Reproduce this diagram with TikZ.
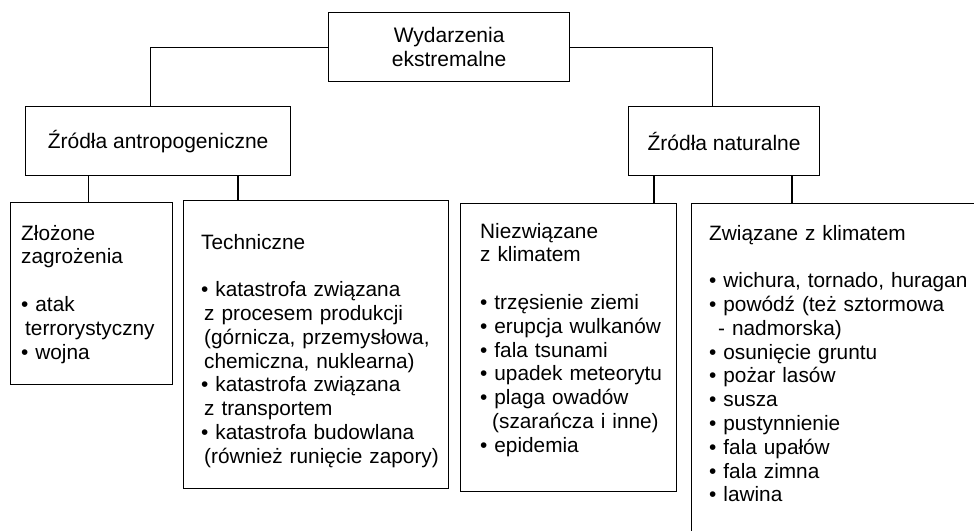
\documentclass[tikz,border=0pt]{standalone}
\usepackage{fontspec}
\setmainfont{Liberation Sans}

\tikzset{
  box/.style={draw, line width=1.2pt, inner sep=0pt, anchor=north west},
  title/.style={font=\fontsize{21}{24}\selectfont, align=center},
  list/.style={font=\fontsize{20.8}{23.8}\selectfont, text width=280pt,
    align=left, inner sep=0pt, anchor=base west},
  link/.style={line width=1.2pt}
}
\newcommand{\dalej}[1][3pt]{\hspace*{#1}}

\begin{document}
\begin{tikzpicture}[x=1pt, y=-1pt]
\useasboundingbox (0,0) rectangle (974,530);
\clip (0,0) rectangle (974,530);

% top and second level
\node[box, title, minimum width=241pt, minimum height=69pt] (top) at (328,12) {Wydarzenia\\ekstremalne};
\node[box, title, minimum width=265pt, minimum height=69pt] (antro) at (25,106) {Źródła antropogeniczne};
\node[box, title, minimum width=191pt, minimum height=69pt] (natur) at (628,106) {Źródła naturalne};

% third level boxes
\node[box, minimum width=162pt, minimum height=182pt] (zloz) at (10,202) {};
\node[box, minimum width=265pt, minimum height=288pt] (tech) at (183,200) {};
\node[box, minimum width=216pt, minimum height=288pt] (niez) at (460,203) {};
\node[box, minimum width=330pt, minimum height=370pt] (zwiaz) at (691,203) {};

% texts
\node[list] (zloztxt) at ([shift={(11,38)}]zloz.north west) {Złożone\\
zagrożenia\\[23.8pt]
• atak\\
\dalej[4pt]terrorystyczny\\
• wojna};
\node[list] (techtxt) at ([shift={(18,49)}]tech.north west) {Techniczne\\[23.8pt]
• katastrofa związana\\
\dalej z procesem produkcji\\
\dalej (górnicza, przemysłowa,\\
\dalej chemiczna, nuklearna)\\
• katastrofa związana\\
\dalej z transportem\\
• katastrofa budowlana\\
\dalej (również runięcie zapory)};
\node[list] (nieztxt) at ([shift={(20,35)}]niez.north west) {Niezwiązane\\
z klimatem\\[23.8pt]
• trzęsienie ziemi\\
• erupcja wulkanów\\
• fala tsunami\\
• upadek meteorytu\\
• plaga owadów\\
\dalej[12pt](szarańcza i inne)\\
• epidemia};
\node[list] (zwiaztxt) at ([shift={(18,37)}]zwiaz.north west) {Związane z klimatem\\[23.8pt]
• wichura, tornado, huragan\\
• powódź (też sztormowa\\
\dalej[9pt]- nadmorska)\\
• osunięcie gruntu\\
• pożar lasów\\
• susza\\
• pustynnienie\\
• fala upałów\\
• fala zimna\\
• lawina};

% connectors
\draw[link] (top.west) -| ([xshift=-7.5pt]antro.north);
\draw[link] (top.east) -| ([xshift=-11.5pt]natur.north);
\coordinate (a1) at ([xshift=-3pt]zloz.north);
\coordinate (a2) at ([xshift=55pt]tech.north west);
\coordinate (n1) at ([xshift=194pt]niez.north west);
\coordinate (n2) at ([xshift=101pt]zwiaz.north west);
\draw[link] (a1) -- (a1 |- antro.south);
\draw[link] (a2) -- (a2 |- antro.south);
\draw[link] (n1) -- (n1 |- natur.south);
\draw[link] (n2) -- (n2 |- natur.south);
\end{tikzpicture}
\end{document}
